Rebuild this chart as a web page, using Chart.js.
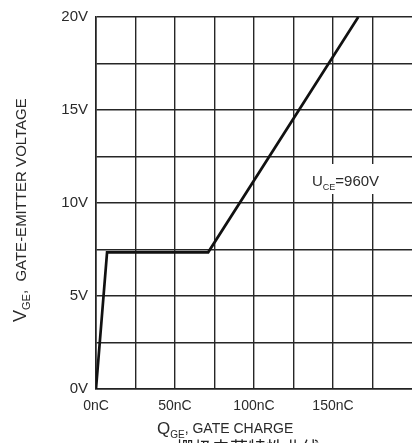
<!DOCTYPE html>
<html>
<head>
<meta charset="utf-8">
<script src="https://cdn.jsdelivr.net/npm/chart.js@4"></script>
<style>
  html, body { margin: 0; padding: 0; background: #fff; }
  #wrap { width: 412px; height: 443px; }
</style>
</head>
<body>
<div id="wrap"><canvas id="graficoCarga" width="412" height="443"></canvas></div>
<script>
// curva de carga de compuerta (nC vs V)
const carga = [0, 7, 71, 166];
const voltaje = [0, 7.35, 7.35, 20];
const ticksY = [0, 5, 10, 15, 20];
const ticksX = [0, 50, 100, 150];

const gris = '#262626';
const texto = '#2a2a2a';

// textos de ejes, nota y pie
const textosPlugin = {
  id: 'textos',
  beforeDatasetsDraw(chart) {
    const ctx = chart.ctx;
    // caja blanca detras de la nota
    ctx.save();
    ctx.fillStyle = '#fff';
    ctx.fillRect(306, 164, 92, 30);
    ctx.restore();
  },
  afterDraw(chart) {
    const ctx = chart.ctx;
    ctx.save();
    ctx.fillStyle = texto;
    ctx.textBaseline = 'alphabetic';

    // nota U_CE
    ctx.font = '15px "Liberation Sans", Arial, sans-serif';
    ctx.fillText('U', 312, 186);
    let w = ctx.measureText('U').width;
    ctx.font = '9px "Liberation Sans", Arial, sans-serif';
    ctx.fillText('CE', 312 + w, 190);
    let w2 = ctx.measureText('CE').width;
    ctx.font = '15px "Liberation Sans", Arial, sans-serif';
    ctx.fillText('=960V', 312 + w + w2, 186);

    // titulo eje X
    ctx.font = '17px "Liberation Sans", Arial, sans-serif';
    ctx.fillText('Q', 157, 434);
    w = ctx.measureText('Q').width;
    ctx.font = '10px "Liberation Sans", Arial, sans-serif';
    ctx.fillText('GE', 157 + w, 438);
    w2 = ctx.measureText('GE').width;
    ctx.font = '14px "Liberation Sans", Arial, sans-serif';
    ctx.fillText(', GATE CHARGE', 157 + w + w2, 433);

    // titulo eje Y (rotado)
    ctx.translate(26, 322);
    ctx.rotate(-Math.PI / 2);
    ctx.font = '18px "Liberation Sans", Arial, sans-serif';
    ctx.fillText('V', 0, 0);
    w = ctx.measureText('V').width;
    ctx.font = '11px "Liberation Sans", Arial, sans-serif';
    ctx.fillText('GE', w, 4);
    w2 = ctx.measureText('GE').width;
    ctx.font = '15px "Liberation Sans", Arial, sans-serif';
    ctx.fillText(',  GATE-EMITTER VOLTAGE', w + w2, 0);
    ctx.restore();

    // pie en chino (cortado abajo)
    ctx.save();
    ctx.fillStyle = '#222';
    ctx.font = '18px "Noto Sans CJK SC", sans-serif';
    ctx.textAlign = 'center';
    ctx.textBaseline = 'top';
    ctx.fillText('栅极电荷特性曲线', 248, 439);
    ctx.restore();
  }
};

const ctx = document.getElementById('graficoCarga').getContext('2d');
new Chart(ctx, {
  type: 'scatter',
  data: {
    datasets: [{
      data: carga.map((q, i) => ({ x: q, y: voltaje[i] })),
      showLine: true,
      borderColor: '#111',
      borderWidth: 2.7,
      pointRadius: 0,
      tension: 0
    }]
  },
  options: {
    responsive: false,
    animation: false,
    layout: { padding: { left: 0, top: 15, right: -1, bottom: 0 } },
    plugins: { legend: { display: false }, tooltip: { enabled: false } },
    scales: {
      x: {
        type: 'linear',
        min: 0,
        max: 200,
        afterFit(scale) { scale.height = 54; scale.paddingRight = 0; },
        grid: {
          // la linea de 200nC queda fuera del recuadro
          color: c => c.tick && c.tick.value === 200 ? 'rgba(0,0,0,0)' : gris,
          lineWidth: 1.4,
          drawTicks: false
        },
        border: { color: '#222', width: 1.6 },
        ticks: {
          stepSize: 25,
          autoSkip: false,
          padding: 9,
          color: texto,
          font: { family: '"Liberation Sans", Arial, sans-serif', size: 14 },
          maxRotation: 0,
          callback: v => ticksX.includes(v) ? v + 'nC' : ''
        }
      },
      y: {
        min: 0,
        max: 20,
        afterFit(scale) { scale.width = 96; },
        grid: { color: gris, lineWidth: 1.4, drawTicks: false },
        border: { color: '#222', width: 1.6 },
        ticks: {
          stepSize: 2.5,
          autoSkip: false,
          padding: 8,
          color: texto,
          font: { family: '"Liberation Sans", Arial, sans-serif', size: 15 },
          callback: v => ticksY.includes(v) ? v + 'V' : ''
        }
      }
    }
  },
  plugins: [textosPlugin]
});
</script>
</body>
</html>
